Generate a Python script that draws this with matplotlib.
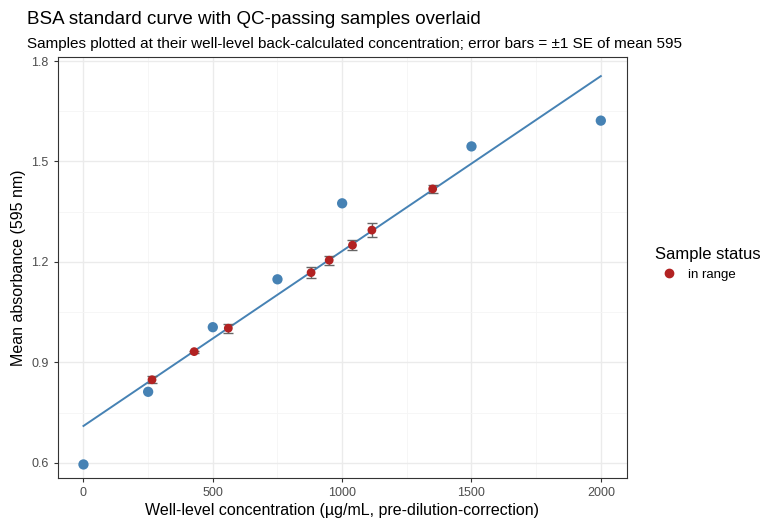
import matplotlib
matplotlib.use("Agg")
import matplotlib.pyplot as plt
from matplotlib.lines import Line2D
import numpy as np

plt.rcParams['font.family'] = ['Liberation Sans', 'DejaVu Sans']

std_conc = [0, 250, 500, 750, 1000, 1500, 2000]
std_abs = [0.595, 0.812, 1.005, 1.148, 1.375, 1.545, 1.622]
fit_x = [0, 2000]
fit_y = [0.710, 1.755]
smp_conc = [265, 428, 560, 880, 950, 1040, 1115, 1350]
smp_abs = [0.848, 0.932, 1.002, 1.168, 1.205, 1.250, 1.295, 1.418]
smp_se = [0.010, 0.003, 0.013, 0.016, 0.013, 0.015, 0.022, 0.013]

fig = plt.figure(figsize=(7.68, 5.28), dpi=100)
ax = fig.add_axes([0.075, 0.095, 0.741, 0.797])
ax.plot(fit_x, fit_y, color="#4682B4", lw=1.4, zorder=2)
ax.scatter(std_conc, std_abs, s=55, color="#4682B4", zorder=3, edgecolors="none")
ax.errorbar(smp_conc, smp_abs, yerr=smp_se, fmt="none", ecolor="#666666",
            elinewidth=1, capsize=3.5, capthick=1, zorder=4)
ax.scatter(smp_conc, smp_abs, s=40, color="#B22222", zorder=5, edgecolors="none")

ax.set_xlim(-100, 2100)
ax.set_ylim(0.555, 1.812)
ax.set_xticks([0, 500, 1000, 1500, 2000])
ax.set_yticks([0.6, 0.9, 1.2, 1.5, 1.8])
ax.set_yticklabels(["0.6", "0.9", "1.2", "1.5", "1.8"])
ax.set_xticks([250, 750, 1250, 1750], minor=True)
ax.set_yticks([0.75, 1.05, 1.35, 1.65], minor=True)
ax.grid(True, which="major", color="#EBEBEB", lw=1.0)
ax.grid(True, which="minor", color="#F5F5F5", lw=0.6)
ax.set_axisbelow(True)
for s in ax.spines.values():
    s.set_color("#333333"); s.set_linewidth(0.8)
ax.tick_params(which="major", colors="#333333", labelsize=9, length=3, labelcolor="#4D4D4D")
ax.tick_params(which="minor", length=0)
ax.set_xlabel("Well-level concentration (µg/mL, pre-dilution-correction)", fontsize=11.5, labelpad=3)
ax.set_ylabel("Mean absorbance (595 nm)", fontsize=11.5)

fig.text(0.035, 0.955, "BSA standard curve with QC-passing samples overlaid", fontsize=13.5)
fig.text(0.035, 0.91, "Samples plotted at their well-level back-calculated concentration; error bars = ±1 SE of mean 595", fontsize=11)

h = Line2D([0], [0], marker="o", color="#666666", markerfacecolor="#B22222",
           markeredgecolor="#B22222", markersize=6, lw=0)
leg = fig.legend([h], ["in range"], title="Sample status", loc="center left",
                 bbox_to_anchor=(0.838, 0.5), frameon=False, fontsize=9.5,
                 title_fontsize=12, handletextpad=0.5)
leg._legend_box.align = "left"
fig.savefig("out.png", dpi=100)
